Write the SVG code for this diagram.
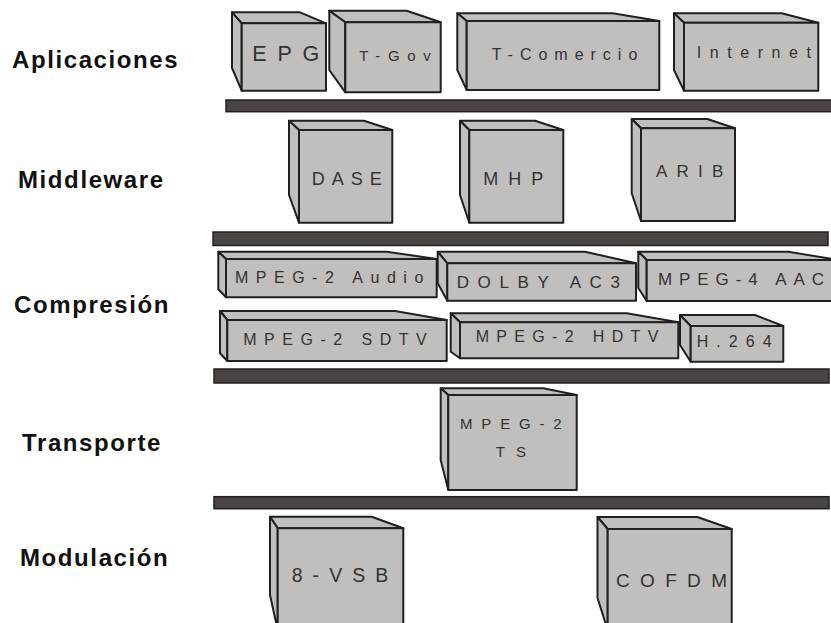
<svg xmlns="http://www.w3.org/2000/svg" width="831" height="623" viewBox="0 0 831 623">
<style>
.bg{fill:#ffffff}
.face{fill:#c0bfbe;stroke:#231f20;stroke-width:2;stroke-linejoin:round}
.bar{fill:#4a4543;stroke:#231f20;stroke-width:1.5}
.lbl{font-family:"Liberation Sans",Arial,sans-serif;font-weight:bold;font-size:24px;fill:#111111;letter-spacing:1.6px}
.t{font-family:"Liberation Sans",Arial,sans-serif;fill:#333333}
</style>
<rect class="bg" x="0" y="0" width="831" height="623"/>

<g id="labels">
<text class="lbl" x="12" y="68">Aplicaciones</text>
<text class="lbl" x="18" y="188">Middleware</text>
<text class="lbl" x="14" y="313">Compresión</text>
<text class="lbl" x="22" y="451">Transporte</text>
<text class="lbl" x="20" y="566">Modulación</text>
</g>

<g id="bars">
<rect class="bar" x="226" y="100" width="610" height="11.7"/>
<rect class="bar" x="213" y="232" width="615" height="13.5"/>
<rect class="bar" x="214" y="369" width="615" height="14"/>
<rect class="bar" x="214" y="496.7" width="615" height="12"/>
</g>

<g id="connectors"></g>

<g id="epg">
<polygon class="face" points="232,12.3 300,12.3 326,23.3 241.7,23.3"/>
<polygon class="face" points="232,12.3 241.7,23.3 241.7,90.7 232,68"/>
<rect class="face" x="241.7" y="23.3" width="84.3" height="67.4"/>
<text class="t" x="252.3" y="61" font-size="21.5" textLength="67" lengthAdjust="spacing">EPG</text>
</g>
<g id="tgov">
<polygon class="face" points="329.3,10.7 406.7,10.7 440.7,22.3 345.3,22.3"/>
<polygon class="face" points="329.3,10.7 345.3,22.3 345.3,92.3 329.3,70"/>
<rect class="face" x="345.3" y="22.3" width="95.4" height="70"/>
<text class="t" x="359.3" y="61" font-size="15" textLength="71.5" lengthAdjust="spacing">T-Gov</text>
</g>
<g id="tcomercio">
<polygon class="face" points="457.3,13.3 612.7,13.3 659.3,21 466.7,21"/>
<polygon class="face" points="457.3,13.3 466.7,21 466.7,90 457.3,70"/>
<rect class="face" x="466.7" y="21" width="192.6" height="69"/>
<text class="t" x="491.7" y="60" font-size="16" textLength="145.6" lengthAdjust="spacing">T-Comercio</text>
</g>
<g id="internet">
<polygon class="face" points="674,13.3 781.7,13.3 818.3,22.7 684,22.7"/>
<polygon class="face" points="674,13.3 684,22.7 684,90.7 674,70"/>
<rect class="face" x="684" y="22.7" width="134.3" height="68"/>
<text class="t" x="696.7" y="58.3" font-size="16" textLength="114.3" lengthAdjust="spacing">Internet</text>
</g>

<g id="dase">
<polygon class="face" points="289,120.7 364,120.7 392.3,130 299,130"/>
<polygon class="face" points="289,120.7 299,130 299,222.7 289,195"/>
<rect class="face" x="299" y="130" width="93.3" height="92.7"/>
<text class="t" x="311.7" y="185" font-size="18" textLength="70" lengthAdjust="spacing">DASE</text>
</g>
<g id="mhp">
<polygon class="face" points="460,120.7 535,120.7 563.3,130 469.3,130"/>
<polygon class="face" points="460,120.7 469.3,130 469.3,222.7 460,195"/>
<rect class="face" x="469.3" y="130" width="94" height="92.7"/>
<text class="t" x="483.3" y="185" font-size="18" textLength="60" lengthAdjust="spacing">MHP</text>
</g>
<g id="arib">
<polygon class="face" points="631.7,119 707.3,119 735,128.3 641,128.3"/>
<polygon class="face" points="631.7,119 641,128.3 641,221 631.7,193.3"/>
<rect class="face" x="641" y="128.3" width="94" height="92.7"/>
<text class="t" x="656" y="176.7" font-size="17" textLength="67.3" lengthAdjust="spacing">ARIB</text>
</g>

<g id="mpeg2audio">
<polygon class="face" points="218.3,251.7 386.7,251.7 436.7,259 226,259"/>
<polygon class="face" points="218.3,251.7 226,259 226,297.3 218.3,289.3"/>
<rect class="face" x="226" y="259" width="210.7" height="38.3"/>
<text class="t" x="235" y="282.7" font-size="16" textLength="188.3" lengthAdjust="spacing">MPEG-2 Audio</text>
</g>
<g id="dolby">
<polygon class="face" points="437.7,251.7 585,251.7 636,263.3 447.3,263.3"/>
<polygon class="face" points="437.7,251.7 447.3,263.3 447.3,300.7 437.7,283.3"/>
<rect class="face" x="447.3" y="263.3" width="188.7" height="37.4"/>
<text class="t" x="456.7" y="288" font-size="17" textLength="163.3" lengthAdjust="spacing">DOLBY AC3</text>
</g>
<g id="mpeg4aac">
<polygon class="face" points="638.3,251.7 788.3,251.7 838,260 646.7,260"/>
<polygon class="face" points="638.3,251.7 646.7,260 646.7,301 638.3,288"/>
<rect class="face" x="646.7" y="260" width="191.3" height="41"/>
<text class="t" x="658" y="285" font-size="17" textLength="166" lengthAdjust="spacing">MPEG-4 AAC</text>
</g>
<g id="mpeg2sdtv">
<polygon class="face" points="220,311 395,311 446.7,320 227.3,320"/>
<polygon class="face" points="220,311 227.3,320 227.3,361 220,353.3"/>
<rect class="face" x="227.3" y="320" width="219.4" height="41"/>
<text class="t" x="243.3" y="345" font-size="16" textLength="183.4" lengthAdjust="spacing">MPEG-2 SDTV</text>
</g>
<g id="mpeg2hdtv">
<polygon class="face" points="450.7,313.3 626.7,313.3 678.3,322.3 460,322.3"/>
<polygon class="face" points="450.7,313.3 460,322.3 460,358.3 450.7,351.7"/>
<rect class="face" x="460" y="322.3" width="218.3" height="36"/>
<text class="t" x="475.7" y="342" font-size="16" textLength="182.6" lengthAdjust="spacing">MPEG-2 HDTV</text>
</g>
<g id="h264">
<polygon class="face" points="680,315 755,315 783.3,326 690.7,326"/>
<polygon class="face" points="680,315 690.7,326 690.7,361.7 680,345"/>
<rect class="face" x="690.7" y="326" width="92.6" height="35.7"/>
<text class="t" x="696.7" y="346.7" font-size="16" textLength="75" lengthAdjust="spacing">H.264</text>
</g>

<g id="mpeg2ts">
<polygon class="face" points="440.7,388.3 543.3,388.3 576.7,395 448.3,395"/>
<polygon class="face" points="440.7,388.3 448.3,395 448.3,490 440.7,460"/>
<rect class="face" x="448.3" y="395" width="128.4" height="95"/>
<text class="t" x="460" y="429.3" font-size="15" textLength="101.7" lengthAdjust="spacing">MPEG-2</text>
<text class="t" x="495.7" y="456.7" font-size="15" textLength="30.3" lengthAdjust="spacing">TS</text>
</g>

<g id="vsb">
<polygon class="face" points="270,516.7 371.7,516.7 403.3,528.3 277.7,528.3"/>
<polygon class="face" points="270,516.7 277.7,528.3 277.7,630 270,595"/>
<rect class="face" x="277.7" y="528.3" width="125.6" height="102"/>
<text class="t" x="291.7" y="581.7" font-size="19.5" textLength="96.6" lengthAdjust="spacing">8-VSB</text>
</g>
<g id="cofdm">
<polygon class="face" points="597.5,517 697.3,517 731.7,529 607.7,529"/>
<polygon class="face" points="597.5,517 607.7,529 607.7,630 597.5,598"/>
<rect class="face" x="607.7" y="529" width="124" height="102"/>
<text class="t" x="616" y="587" font-size="19" textLength="111" lengthAdjust="spacing">COFDM</text>
</g>
</svg>
